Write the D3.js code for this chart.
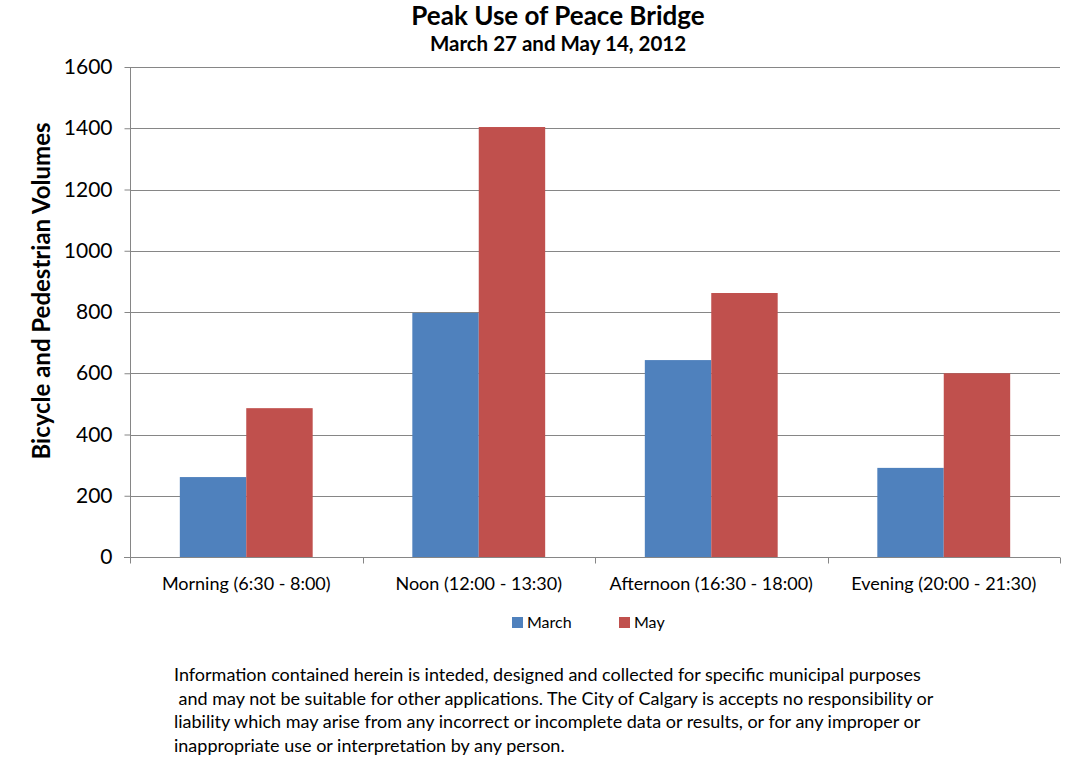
<!DOCTYPE html>
<html>
<head>
<meta charset="utf-8">
<script src="https://cdn.jsdelivr.net/npm/d3@7"></script>
<style>
  body { margin: 0; background: #fff; }
  svg { display: block; font-family: Lato, "Open Sans", sans-serif; }
</style>
</head>
<body>
<div id="chart"></div>
<script>
const categories = ["Morning (6:30 - 8:00)", "Noon (12:00 - 13:30)", "Afternoon (16:30 - 18:00)", "Evening (20:00 - 21:30)"]
const seriesNames = ["March", "May"]
const march = [261, 797, 643, 291]
const may = [486, 1404, 862, 600]
const yTicks = [0, 200, 400, 600, 800, 1000, 1200, 1400, 1600]
const disclaimer = [
  "Information contained herein is inteded, designed and collected for specific municipal purposes",
  " and may not be suitable for other applications. The City of Calgary is accepts no responsibility or",
  "liability which may arise from any incorrect or incomplete data or results, or for any improper or",
  "inappropriate use or interpretation by any person."
]

const width = 1076, height = 758
const margin = ({top: 67, right: 16, bottom: 201, left: 130})
const colors = ["#4F81BD", "#C0504D"]
const gridColor = "#868686"

const data = categories.map((c, i) => ({cat: c, values: [march[i], may[i]]}))

const svg = d3.select("#chart")
  .append("svg")
  .attr("width", width)
  .attr("height", height)
  .attr("viewBox", [0, 0, width, height])

const x = d3.scaleBand()
  .domain(categories)
  .range([margin.left, width - margin.right])
  .paddingInner(0)
  .paddingOuter(0)

// Excel gap width 150%: bars take 2 / 3.5 of each band
const inner = d3.scaleBand()
  .domain(seriesNames)
  .range([x.bandwidth() * 0.75 / 3.5, x.bandwidth() * (1 - 0.75 / 3.5)])

const y = d3.scaleLinear()
  .domain([0, 1600])
  .range([height - margin.bottom, margin.top])

// grid
svg.append("g")
  .attr("stroke", gridColor)
  .attr("stroke-width", 1)
  .selectAll("line")
  .data(yTicks.filter(d => d > 0))
  .join("line")
  .attr("x1", margin.left)
  .attr("x2", width - margin.right)
  .attr("y1", d => Math.round(y(d)) + 0.5)
  .attr("y2", d => Math.round(y(d)) + 0.5)

// bars
svg.append("g")
  .selectAll("g")
  .data(data)
  .join("g")
  .attr("transform", d => `translate(${x(d.cat)},0)`)
  .selectAll("rect")
  .data(d => d.values.map((v, i) => ({name: seriesNames[i], v, i})))
  .join("rect")
  .attr("x", d => inner(d.name))
  .attr("width", inner.bandwidth())
  .attr("y", d => y(d.v))
  .attr("height", d => y(0) - y(d.v))
  .attr("fill", d => colors[d.i])

// y axis
const yAxis = svg.append("g")
  .attr("transform", `translate(${margin.left + 0.5},0)`)
  .call(d3.axisLeft(y).tickValues(yTicks).tickSize(6).tickPadding(12).tickFormat(d3.format("d")))
yAxis.select(".domain").attr("stroke", gridColor).attr("d", `M0,${y(1600)}V${y(0)}`)
yAxis.selectAll(".tick line").attr("stroke", gridColor)
yAxis.selectAll(".tick text")
  .attr("font-size", 21)
  .attr("fill", "#000")
  .attr("font-family", "Lato, sans-serif")

// x axis
const xAxis = svg.append("g")
  .attr("transform", `translate(0,${Math.round(y(0)) + 0.5})`)
xAxis.append("line")
  .attr("x1", margin.left - 6)
  .attr("x2", width - margin.right)
  .attr("stroke", gridColor)
xAxis.selectAll(".tk")
  .data(d3.range(categories.length + 1))
  .join("line")
  .attr("class", "tk")
  .attr("x1", i => Math.round(margin.left + i * x.step()) + 0.5)
  .attr("x2", i => Math.round(margin.left + i * x.step()) + 0.5)
  .attr("y1", 0)
  .attr("y2", 6)
  .attr("stroke", gridColor)
xAxis.selectAll("text")
  .data(categories)
  .join("text")
  .attr("x", d => x(d) + x.bandwidth() / 2)
  .attr("y", 32)
  .attr("text-anchor", "middle")
  .attr("font-size", 18)
  .text(d => d)

// y title
svg.append("text")
  .attr("transform", `translate(50,291) rotate(-90)`)
  .attr("text-anchor", "middle")
  .attr("font-size", 24)
  .attr("font-weight", "bold")
  .text("Bicycle and Pedestrian Volumes")

// titles
svg.append("text")
  .attr("x", 558)
  .attr("y", 25)
  .attr("text-anchor", "middle")
  .attr("font-size", 26)
  .attr("font-weight", "bold")
  .text("Peak Use of Peace Bridge")

svg.append("text")
  .attr("x", 558)
  .attr("y", 51)
  .attr("text-anchor", "middle")
  .attr("font-size", 20.5)
  .attr("font-weight", "bold")
  .text("March 27 and May 14, 2012")

// legend
const legend = svg.append("g")
  .selectAll("g")
  .data(seriesNames)
  .join("g")
  .attr("transform", (d, i) => `translate(${512 + i * 107},617)`)
legend.append("rect")
  .attr("width", 11)
  .attr("height", 11)
  .attr("fill", (d, i) => colors[i])
legend.append("text")
  .attr("x", 15)
  .attr("y", 11)
  .attr("font-size", 16)
  .text(d => d)

// disclaimer
svg.append("g")
  .selectAll("text")
  .data(disclaimer)
  .join("text")
  .attr("x", 174)
  .attr("y", (d, i) => 681 + i * 23.5)
  .attr("font-size", 18)
  .attr("xml:space", "preserve")
  .style("white-space", "pre")
  .text(d => d)
</script>
</body>
</html>
